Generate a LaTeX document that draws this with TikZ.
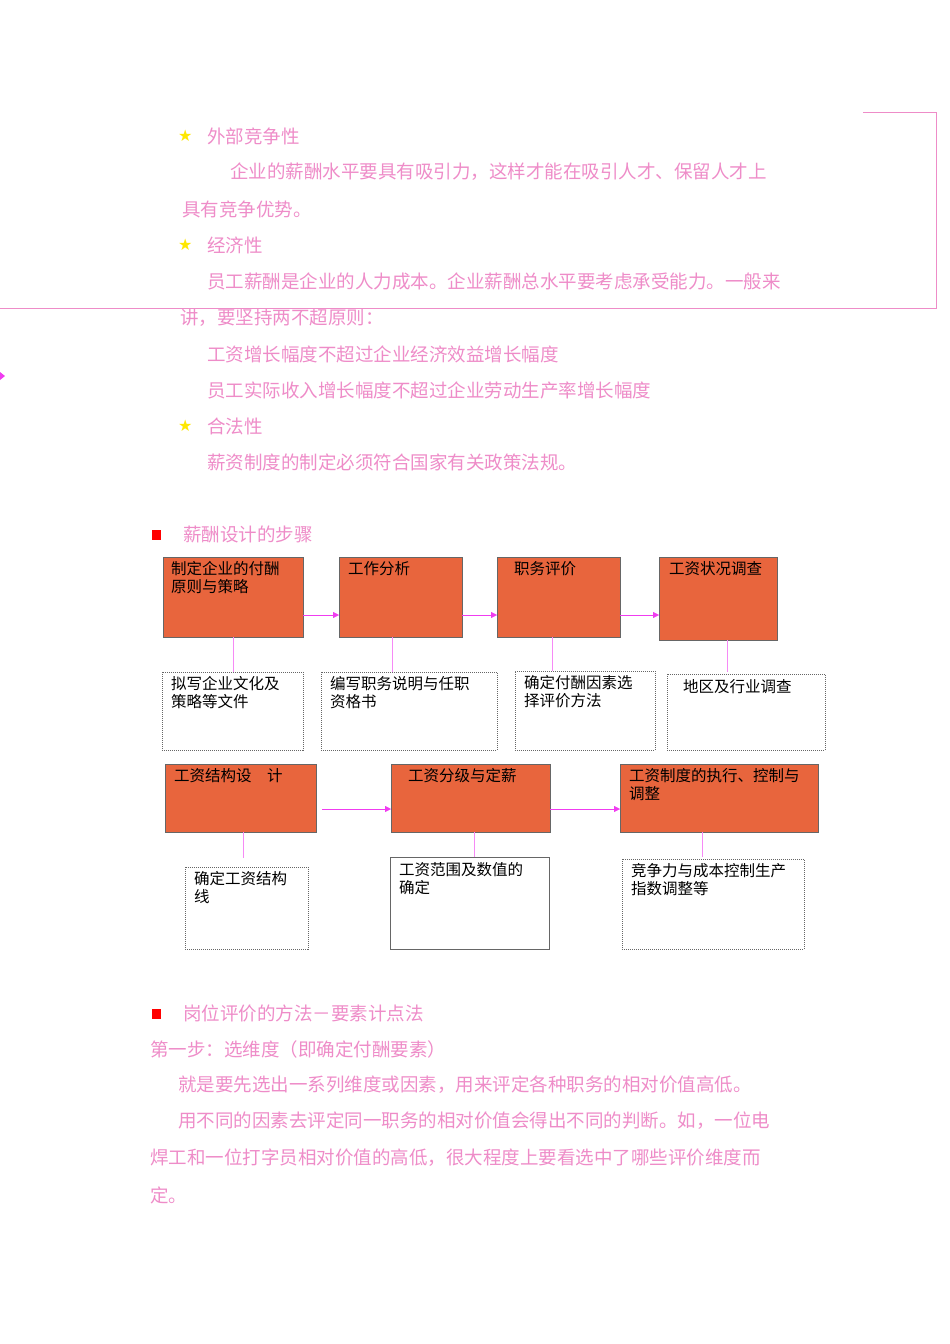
\documentclass[tikz,border=0pt]{standalone}
\usepackage{fontspec}
\newfontfamily\cjk{Noto Sans CJK SC}
\newfontfamily\djv{DejaVu Sans}
\usetikzlibrary{arrows.meta}
\definecolor{pk}{RGB}{238,140,200}
\definecolor{mg}{RGB}{240,60,240}
\definecolor{og}{RGB}{232,101,61}
\tikzset{
 t/.style={anchor=west,text=pk,font=\cjk\fontsize{18.5}{20}\selectfont,inner sep=0},
 st/.style={anchor=west,text=yellow!90!orange,font=\djv\fontsize{16}{18}\selectfont,inner sep=0},
 ob/.style={draw=black!60,fill=og,anchor=north west,inner sep=0},
 wb/.style={draw=black!60,dash pattern=on 1pt off 1pt,anchor=north west,inner sep=0},
 bt/.style={anchor=north west,font=\cjk\fontsize{15.5}{18}\selectfont,align=left,inner sep=0},
 ar/.style={draw=mg,-{Triangle[length=6pt,width=6pt]}},
 ln/.style={draw=mg!60,line width=0.6pt},
}
\begin{document}
\begin{tikzpicture}[x=1pt,y=-1pt]
\useasboundingbox (0,0) rectangle (950,1344);
\draw[pk,line width=0.8pt] (863,112) -- (936,112) -- (936,308) -- (0,308);
\fill[mg] (0,372) -- (5,376) -- (0,380) -- cycle;
\node[st] (s1) at (178,136) {★};
\node[t] (l1) at (207,136) {外部竞争性};
\node[t] (l2) at (230,172) {企业的薪酬水平要具有吸引力，这样才能在吸引人才、保留人才上};
\node[t] (l3) at (182,209) {具有竞争优势。};
\node[st] (s2) at (178,245) {★};
\node[t] (l4) at (207,245) {经济性};
\node[t] (l5) at (207,281) {员工薪酬是企业的人力成本。企业薪酬总水平要考虑承受能力。一般来};
\node[t] (l6) at (180,318) {讲，要坚持两不超原则：};
\node[t] (l7) at (207,354) {工资增长幅度不超过企业经济效益增长幅度};
\node[t] (l8) at (207,390) {员工实际收入增长幅度不超过企业劳动生产率增长幅度};
\node[st] (s3) at (178,426) {★};
\node[t] (l9) at (207,426) {合法性};
\node[t] (l10) at (207,462) {薪资制度的制定必须符合国家有关政策法规。};
\fill[red] (152,530) rectangle (161,540);
\node[t] (h1) at (183,534) {薪酬设计的步骤};
% row 1
\node[ob,minimum width=140,minimum height=80] (A) at (163,557) {};
\node[ob,minimum width=123,minimum height=80] (B) at (339,557) {};
\node[ob,minimum width=123,minimum height=80] (C) at (497,557) {};
\node[ob,minimum width=118,minimum height=83] (D) at (659,557) {};
\node[bt] at (171,561) {制定企业的付酬\\原则与策略};
\node[bt] at (348,561) {工作分析};
\node[bt] at (514,561) {职务评价};
\node[bt] at (669,561) {工资状况调查};
\draw[ar] (A.east |- 0,615) -- (B.west |- 0,615);
\draw[ar] (B.east |- 0,615) -- (C.west |- 0,615);
\draw[ar] (C.east |- 0,615) -- (D.west |- 0,615);
\node[wb,minimum width=141,minimum height=78] (A2) at (162,672) {};
\node[wb,minimum width=176,minimum height=78] (B2) at (321,672) {};
\node[wb,minimum width=140,minimum height=79] (C2) at (515,671) {};
\node[wb,minimum width=158,minimum height=76] (D2) at (667,674) {};
\node[bt] at (171,676) {拟写企业文化及\\策略等文件};
\node[bt] at (330,676) {编写职务说明与任职\\资格书};
\node[bt] at (524,675) {确定付酬因素选\\择评价方法};
\node[bt] at (683,679) {地区及行业调查};
\draw[ln] (A.south -| 233,0) -- (A2.north -| 233,0);
\draw[ln] (B.south -| 392,0) -- (B2.north -| 392,0);
\draw[ln] (C.south -| 552,0) -- (C2.north -| 552,0);
\draw[ln] (D.south -| 727,0) -- (727,672);
% row 2
\node[ob,minimum width=151,minimum height=68] (E) at (165,764) {};
\node[ob,minimum width=159,minimum height=68] (F) at (391,764) {};
\node[ob,minimum width=198,minimum height=68] (G) at (620,764) {};
\node[bt] at (174,768) {工资结构设\hspace{1em}计};
\node[bt] at (408,768) {工资分级与定薪};
\node[bt] at (629,768) {工资制度的执行、控制与\\调整};
\coordinate (e0) at (322,809);
\draw[ar] (e0) -- (F.west |- 0,809);
\draw[ar] (F.east |- 0,809) -- (G.west |- 0,809);
\node[wb,minimum width=123,minimum height=82] (E2) at (185,867) {};
\node[draw=black!60,anchor=north west,inner sep=0,minimum width=159,minimum height=92] (F2) at (390,857) {};
\node[wb,minimum width=182,minimum height=90] (G2) at (622,859) {};
\node[bt] at (194,871) {确定工资结构\\线};
\node[bt] at (399,862) {工资范围及数值的\\确定};
\node[bt] at (631,863) {竞争力与成本控制生产\\指数调整等};
\draw[ln] (E.south -| 243,0) -- (243,858);
\draw[ln] (F.south -| 474,0) -- (F2.north -| 474,0);
\draw[ln] (G.south -| 702,0) -- (702,857);
% bottom text
\fill[red] (152,1009) rectangle (161,1019);
\node[t] (h2) at (183,1013) {岗位评价的方法－要素计点法};
\node[t] (m1) at (150,1049) {第一步：选维度（即确定付酬要素）};
\node[t] (m2) at (178,1085) {就是要先选出一系列维度或因素，用来评定各种职务的相对价值高低。};
\node[t] (m3) at (178,1121) {用不同的因素去评定同一职务的相对价值会得出不同的判断。如，一位电};
\node[t] (m4) at (150,1158) {焊工和一位打字员相对价值的高低，很大程度上要看选中了哪些评价维度而};
\node[t] (m5) at (150,1195) {定。};
\end{tikzpicture}
\end{document}
